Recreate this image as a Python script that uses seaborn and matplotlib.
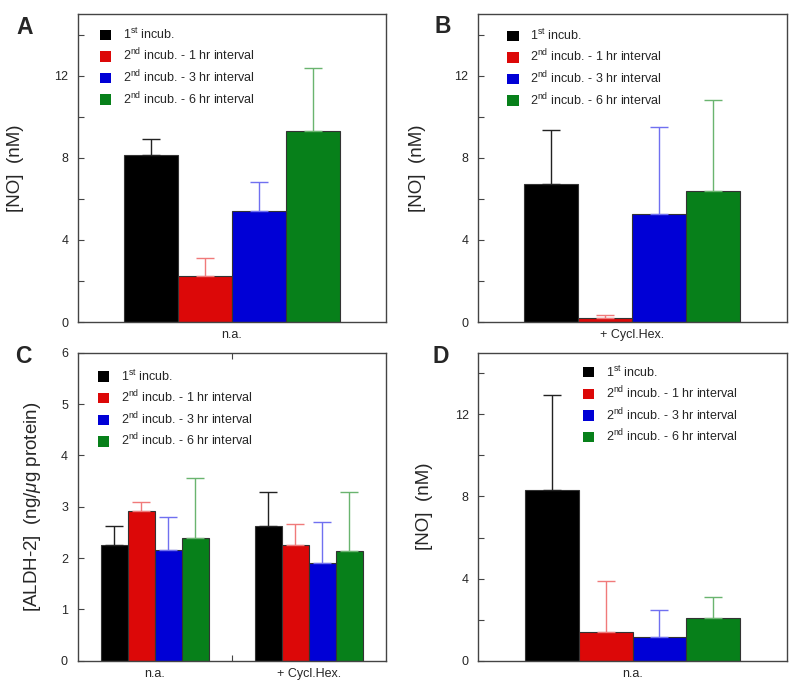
import numpy as np
import pandas as pd
import matplotlib
matplotlib.use("Agg")
import matplotlib.pyplot as plt
from matplotlib.patches import Patch
from matplotlib.ticker import MultipleLocator
import seaborn as sns

sns.set_theme(style="white")
plt.rcParams['font.family'] = ['Liberation Sans', 'DejaVu Sans']
plt.rcParams['mathtext.fontset'] = 'custom'
plt.rcParams['mathtext.rm'] = 'Liberation Sans'
plt.rcParams['mathtext.it'] = 'Liberation Sans:italic'
plt.rcParams['mathtext.bf'] = 'Liberation Sans:bold'

# ---------------- data ----------------
series = ['1st incub.', '2nd incub. - 1 hr interval',
          '2nd incub. - 3 hr interval', '2nd incub. - 6 hr interval']
legend_labels = [r'1$^{\rm st}$ incub.',
                 r'2$^{\rm nd}$ incub. - 1 hr interval',
                 r'2$^{\rm nd}$ incub. - 3 hr interval',
                 r'2$^{\rm nd}$ incub. - 6 hr interval']
bar_colors = ['#000000', '#dc0808', '#0000d6', '#07801a']
err_colors = ['#222222', '#f07a7a', '#7070f0', '#6ab46f']

cat_na = 'n.a.'
cat_ch = '+ Cycl.Hex.'

a_mean = [8.12, 2.23, 5.42, 9.29]
a_err = [0.78, 0.89, 1.39, 3.10]

b_mean = [6.70, 0.18, 5.26, 6.39]
b_err = [2.65, 0.16, 4.22, 4.44]

c_na_mean = [2.25, 2.91, 2.16, 2.40]
c_na_err = [0.37, 0.18, 0.64, 1.15]
c_ch_mean = [2.63, 2.25, 1.91, 2.13]
c_ch_err = [0.66, 0.42, 0.79, 1.16]

d_mean = [8.33, 1.38, 1.14, 2.08]
d_err = [4.61, 2.52, 1.33, 1.04]


def frame(cats, means_list, errs_list):
    rows = []
    for cat, means, errs in zip(cats, means_list, errs_list):
        for s, m, e in zip(series, means, errs):
            rows.append(dict(cat=cat, series=s, mean=m, err=e))
    return pd.DataFrame(rows)


dfA = frame([cat_na], [a_mean], [a_err])
dfB = frame([cat_ch], [b_mean], [b_err])
dfC = frame([cat_na, cat_ch], [c_na_mean, c_ch_mean], [c_na_err, c_ch_err])
dfD = frame([cat_na], [d_mean], [d_err])

fig = plt.figure(figsize=(8.0, 6.95), dpi=100)
W, H = 800, 695


def ax_rect(left, top, right, bottom):
    return [left / W, 1 - bottom / H, (right - left) / W, (bottom - top) / H]


axA = fig.add_axes(ax_rect(78, 14, 386, 322))
axB = fig.add_axes(ax_rect(478, 14, 786.5, 322))
axC = fig.add_axes(ax_rect(77.7, 352.7, 386, 660.7))
axD = fig.add_axes(ax_rect(478.3, 352.7, 786.7, 660.7))

pal = dict(zip(series, bar_colors))


def draw(ax, df, cats, ymax, major, minor, ylabel, label_x, leg_xy):
    sns.barplot(data=df, x='cat', y='mean', hue='series', order=cats,
                hue_order=series, palette=pal, errorbar=None, width=0.7,
                saturation=1, edgecolor='#333333', linewidth=0.8,
                legend=False, ax=ax)
    bar_conts = list(ax.containers)
    # error bars (upper only)
    for i, cont in enumerate(bar_conts):
        s = series[i]
        sub = df[df['series'] == s].set_index('cat').loc[cats]
        for bar, e in zip(cont.patches, sub['err'].values):
            xc = bar.get_x() + bar.get_width() / 2
            h = bar.get_height()
            ax.errorbar([xc], [h], yerr=[[0], [e]], fmt='none',
                        ecolor=err_colors[i], elinewidth=1.0,
                        capsize=6.5, capthick=1.0, zorder=1)
    ax.set_ylim(0, ymax)
    ax.set_xlim(-0.5, len(cats) - 0.5)
    ax.yaxis.set_major_locator(MultipleLocator(major))
    if minor:
        ax.yaxis.set_minor_locator(MultipleLocator(minor))
    ax.tick_params(axis='y', which='both', direction='in', length=4,
                   width=0.8, color='#444444', labelsize=9, pad=7,
                   left=True)
    ax.tick_params(axis='x', which='major', length=0, labelsize=9, pad=5)
    if len(cats) > 1:
        ax.set_xticks([0.5], minor=True)
        ax.tick_params(axis='x', which='minor', direction='in', length=4,
                       width=0.8, color='#444444', top=True, bottom=True)
    ax.set_xlabel('')
    ax.set_ylabel(ylabel, fontsize=13.5)
    ax.yaxis.set_label_coords(label_x, 0.5)
    for sp in ax.spines.values():
        sp.set_color('#444444')
        sp.set_linewidth(1.0)
    handles = [Patch(facecolor=c, edgecolor='none') for c in bar_colors]
    ax.legend(handles, legend_labels, loc='upper left',
              bbox_to_anchor=leg_xy, frameon=False, fontsize=9,
              handlelength=0.9, handleheight=0.9, handletextpad=0.95,
              labelspacing=0.4, borderpad=0, borderaxespad=0)


draw(axA, dfA, [cat_na], 15, 4, 2, '[NO]  (nM)', -0.175, (0.072, 0.958))
draw(axB, dfB, [cat_ch], 15, 4, 2, '[NO]  (nM)', -0.169, (0.095, 0.955))
draw(axC, dfC, [cat_na, cat_ch], 6, 1, None,
     r'[ALDH-2]  (ng/$\mu$g protein)', -0.113, (0.066, 0.948))
draw(axD, dfD, [cat_na], 15, 4, 2, '[NO]  (nM)', -0.147, (0.340, 0.962))

for lab, x, y in [('A', 16, 34), ('B', 434, 33), ('C', 15, 363), ('D', 433, 363)]:
    fig.text(x / W, 1 - y / H, lab, fontsize=16.5, fontweight='bold',
             ha='left', va='baseline')

fig.savefig('out.png', dpi=100)
